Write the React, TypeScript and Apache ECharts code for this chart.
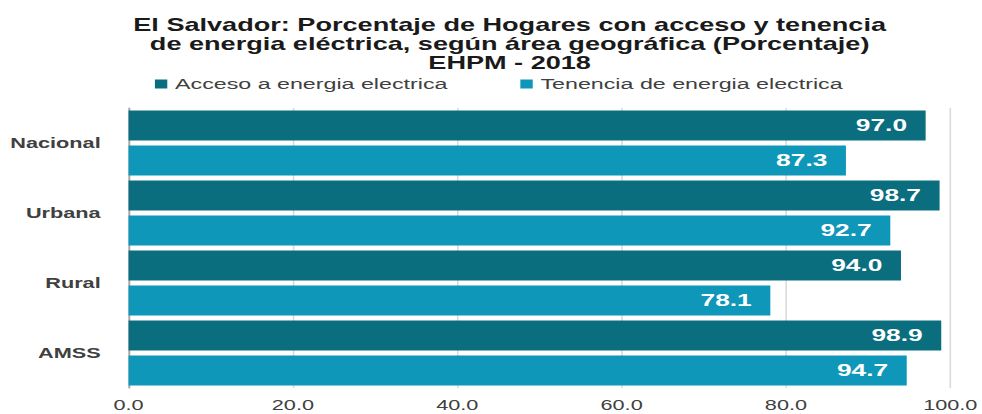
import React, { useEffect, useRef } from "react";
import * as echarts from "echarts";

const titleLines = [
  "El Salvador: Porcentaje de Hogares con acceso y tenencia",
  "de energia eléctrica, según área geográfica (Porcentaje)",
  "EHPM - 2018",
];
const categories = ["Nacional", "Urbana", "Rural", "AMSS"];
const seriesNames = ["Acceso a energia electrica", "Tenencia de energia electrica"];
const accesoValues = [97.0, 98.7, 94.0, 98.9];
const tenenciaValues = [87.3, 92.7, 78.1, 94.7];
const xTicks = { min: 0, max: 100, interval: 20 };

const STRETCH = 1.549;
const W = Math.round(982 / STRETCH);
const H = 414;
const FONT = "'Liberation Sans', Arial, sans-serif";

export default function App() {
  const ref = useRef<HTMLDivElement>(null);
  useEffect(() => {
    if (!ref.current) return;
    const chart = echarts.init(ref.current, null, { renderer: "svg" });
    const label = {
      show: true,
      position: "insideRight",
      distance: 12,
      color: "#ffffff",
      fontWeight: "bold",
      fontSize: 17,
      fontFamily: FONT,
      formatter: (p: any) => Number(p.value).toFixed(1),
    };
    chart.setOption({
      animation: false,
      textStyle: { fontFamily: FONT },
      title: {
        text: titleLines.join("\n"),
        left: 324,
        top: 10,
        textAlign: "center",
        textStyle: {
          fontSize: 17.5,
          fontWeight: "bold",
          color: "#1a1a1a",
          lineHeight: 19,
          fontFamily: FONT,
        },
      },
      legend: {
        left: 95,
        top: 71,
        itemWidth: 8,
        itemHeight: 9,
        itemGap: 47,
        icon: "rect",
        textStyle: { fontSize: 15, color: "#404040", fontFamily: FONT, lineHeight: 16 },
        data: seriesNames,
      },
      grid: { left: 83, right: W - 614, top: 108, bottom: 26, containLabel: false },
      xAxis: {
        type: "value",
        min: xTicks.min,
        max: xTicks.max,
        interval: xTicks.interval,
        axisLine: { show: false },
        axisTick: { show: false },
        splitLine: { show: true, lineStyle: { color: "#d9d9d9", width: 1 } },
        axisLabel: {
          margin: 10,
          fontSize: 14,
          color: "#404040",
          fontFamily: FONT,
          formatter: (v: number) => v.toFixed(1),
        },
      },
      yAxis: {
        type: "category",
        inverse: true,
        data: categories,
        axisLine: { show: true, lineStyle: { color: "#a6a6a6", width: 1.2 } },
        axisTick: { show: false },
        axisLabel: {
          margin: 18,
          fontSize: 14,
          fontWeight: "bold",
          color: "#404040",
          fontFamily: FONT,
        },
      },
      series: [
        {
          name: seriesNames[0],
          type: "bar",
          data: accesoValues,
          itemStyle: { color: "#0b6e7f" },
          barGap: "17%",
          barCategoryGap: "7%",
          label,
        },
        {
          name: seriesNames[1],
          type: "bar",
          data: tenenciaValues,
          itemStyle: { color: "#0f97ba" },
          barGap: "17%",
          barCategoryGap: "7%",
          label,
        },
      ],
    });
    return () => chart.dispose();
  }, []);
  return (
    <div
      style={{
        position: "fixed",
        left: 0,
        top: 0,
        width: 982,
        height: H,
        overflow: "hidden",
        background: "#ffffff",
      }}
    >
      <div
        ref={ref}
        style={{
          width: W,
          height: H,
          transform: `scaleX(${STRETCH})`,
          transformOrigin: "0 0",
        }}
      />
    </div>
  );
}
